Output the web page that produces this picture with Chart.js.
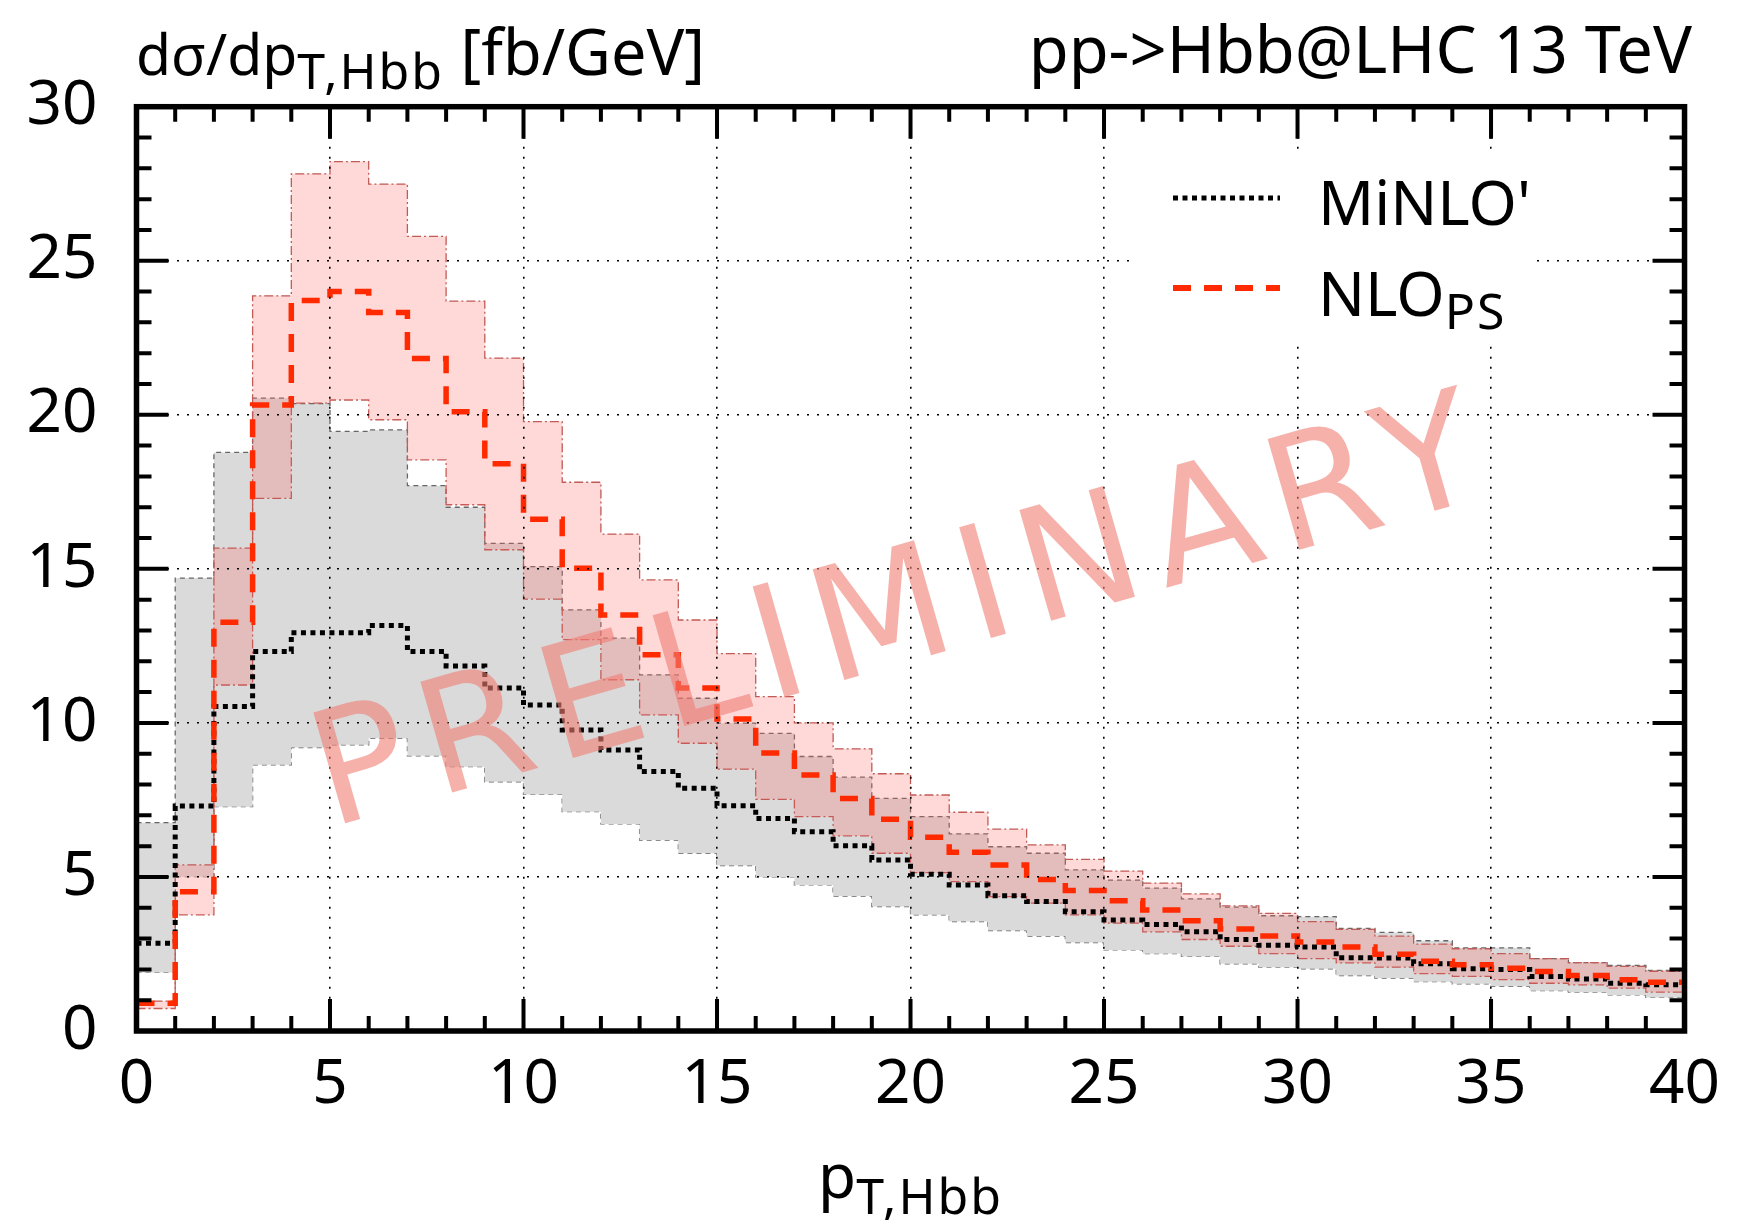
<!DOCTYPE html>
<html>
<head>
<meta charset="utf-8">
<title>pp->Hbb pT spectrum</title>
<script src="https://cdn.jsdelivr.net/npm/chart.js@4/dist/chart.umd.min.js"></script>
<style>
  html, body { margin: 0; padding: 0; background: #fff; }
  canvas { display: block; }
</style>
</head>
<body>
<canvas id="ptChart" width="1737" height="1228"></canvas>
<script>
// 1 GeV bins from 0 to 40
const binEdges = [0, 1, 2, 3, 4, 5, 6, 7, 8, 9, 10, 11, 12, 13, 14, 15, 16, 17, 18, 19, 20,
    21, 22, 23, 24, 25, 26, 27, 28, 29, 30, 31, 32, 33, 34, 35, 36, 37, 38, 39, 40];

const xTicks = [0, 5, 10, 15, 20, 25, 30, 35, 40];
const yTicks = [0, 5, 10, 15, 20, 25, 30];

// MiNLO' (black dotted + grey band)
const minloCentral = [2.85, 7.3, 10.53, 12.32, 12.93, 12.93, 13.16, 12.32, 11.85, 11.13,
    10.58, 9.77, 9.12, 8.42, 7.88, 7.31, 6.9, 6.47, 6.01, 5.55,
    5.09, 4.74, 4.39, 4.2, 3.87, 3.6, 3.46, 3.22, 2.97, 2.78,
    2.73, 2.38, 2.37, 2.18, 2.02, 2.0, 1.77, 1.69, 1.55, 1.5];
const minloUpper = [6.76, 14.7, 18.78, 20.54, 20.36, 19.46, 19.51, 17.7, 17.0, 15.83,
    15.07, 13.67, 12.75, 11.56, 10.8, 9.99, 9.66, 8.91, 8.24, 7.55,
    6.96, 6.4, 5.98, 5.77, 5.23, 4.9, 4.64, 4.29, 4.02, 3.74,
    3.71, 3.33, 3.2, 2.93, 2.7, 2.7, 2.35, 2.22, 2.13, 1.97];
const minloLower = [1.9, 5.01, 7.28, 8.64, 9.2, 9.29, 9.5, 8.93, 8.58, 8.09,
    7.68, 7.12, 6.72, 6.2, 5.77, 5.37, 5.0, 4.74, 4.38, 4.04,
    3.77, 3.55, 3.26, 3.08, 2.87, 2.63, 2.51, 2.42, 2.18, 2.07,
    2.02, 1.8, 1.72, 1.6, 1.53, 1.45, 1.31, 1.26, 1.17, 1.09];

// NLO_PS (red dashed + pink band)
const nlopsCentral = [0.9, 4.52, 13.27, 20.32, 23.71, 24.0, 23.32, 21.83, 20.1, 18.41,
    16.61, 15.02, 13.5, 12.21, 11.13, 10.13, 9.02, 8.31, 7.55, 6.87,
    6.29, 5.8, 5.39, 4.92, 4.56, 4.23, 3.93, 3.58, 3.31, 3.08,
    2.89, 2.73, 2.49, 2.26, 2.15, 2.04, 1.93, 1.8, 1.66, 1.58];
const nlopsUpper = [0.97, 5.39, 15.67, 23.86, 27.82, 28.22, 27.49, 25.79, 23.69, 21.84,
    19.78, 17.81, 16.13, 14.64, 13.34, 12.25, 10.85, 10.0, 9.16, 8.35,
    7.66, 7.1, 6.55, 6.04, 5.57, 5.19, 4.8, 4.45, 4.06, 3.82,
    3.55, 3.3, 3.08, 2.82, 2.67, 2.51, 2.35, 2.22, 2.1, 1.94];
const nlopsLower = [0.73, 3.77, 11.23, 17.29, 20.38, 20.48, 19.84, 18.54, 17.08, 15.62,
    14.02, 12.7, 11.4, 10.26, 9.34, 8.5, 7.52, 6.96, 6.33, 5.77,
    5.14, 4.85, 4.36, 4.15, 3.77, 3.5, 3.22, 2.97, 2.75, 2.51,
    2.35, 2.21, 2.07, 1.86, 1.77, 1.67, 1.55, 1.5, 1.39, 1.26];

const FONT = '"Noto Sans", "DejaVu Sans", sans-serif';

// histogram -> step points (last value repeated at the upper edge)
function steps(vals) {
    const pts = vals.map((v, i) => ({x: binEdges[i], y: v}));
    pts.push({x: binEdges[vals.length], y: vals[vals.length - 1]});
    return pts;
}

function lineDs(label, vals, opts) {
    return Object.assign({
        label: label,
        data: steps(vals),
        stepped: 'before',
        pointRadius: 0,
        fill: false,
        borderCapStyle: 'butt',
    }, opts);
}

// text with a subscript part, returns end x
function textWithSub(ctx, x, y, main, sub, mainSize, subSize, subDrop) {
    ctx.font = mainSize + 'px ' + FONT;
    ctx.fillText(main, x, y);
    x += ctx.measureText(main).width;
    ctx.font = subSize + 'px ' + FONT;
    ctx.letterSpacing = '2px';
    ctx.fillText(sub, x, y + subDrop);
    const w = ctx.measureText(sub).width;
    ctx.letterSpacing = '0px';
    return x + w;
}

const decor = {
    id: 'decor',
    afterDraw(chart) {
        const {ctx, chartArea: a, scales: {x, y}} = chart;
        ctx.save();

        // PRELIMINARY watermark
        ctx.save();
        ctx.translate(898, 622);
        ctx.rotate(-16 * Math.PI / 180);
        ctx.font = '158px "DejaVu Sans", sans-serif';
        ctx.letterSpacing = '16px';
        ctx.textAlign = 'center';
        ctx.textBaseline = 'middle';
        ctx.fillStyle = 'rgba(240, 125, 115, 0.6)';
        ctx.fillText('PRELIMINARY', 8, 0);
        ctx.restore();

        // legend
        ctx.fillStyle = '#fff';
        ctx.fillRect(1130, 153, 404, 188);
        ctx.lineCap = 'butt';
        ctx.strokeStyle = '#000';
        ctx.lineWidth = 5;
        ctx.setLineDash([5, 4.5]);
        ctx.beginPath();
        ctx.moveTo(1173, 198);
        ctx.lineTo(1280, 198);
        ctx.stroke();
        ctx.strokeStyle = '#ff2a00';
        ctx.lineWidth = 6;
        ctx.setLineDash([18, 13]);
        ctx.beginPath();
        ctx.moveTo(1173, 288);
        ctx.lineTo(1280, 288);
        ctx.stroke();
        ctx.setLineDash([]);
        ctx.fillStyle = '#000';
        ctx.textAlign = 'left';
        ctx.textBaseline = 'alphabetic';
        ctx.font = '62px ' + FONT;
        ctx.fillText("MiNLO'", 1318, 225);
        textWithSub(ctx, 1318, 316, 'NLO', 'PS', 62, 50, 13);

        // titles
        let tx = textWithSub(ctx, 136, 75, 'd\u03c3/dp', 'T,Hbb', 57, 50, 14);
        ctx.font = '63px ' + FONT;
        ctx.fillText(' [fb/GeV]', tx, 75);
        ctx.textAlign = 'right';
        ctx.font = '65px ' + FONT;
        ctx.fillText('pp->Hbb@LHC 13 TeV', 1692, 73);
        ctx.textAlign = 'left';
        ctx.font = '62px ' + FONT;
        const wp = ctx.measureText('p').width;
        ctx.font = '50px ' + FONT;
        const ws = ctx.measureText('T,Hbb').width;
        textWithSub(ctx, (a.left + a.right) / 2 - 5 - (wp + ws) / 2, 1198, 'p', 'T,Hbb', 62, 50, 16);

        // inward ticks on all four sides
        ctx.strokeStyle = '#000';
        ctx.lineWidth = 4;
        ctx.beginPath();
        for (let v = binEdges[0]; v <= binEdges[binEdges.length - 1]; v++) {
            const px = x.getPixelForValue(v);
            const len = v % 5 === 0 ? 32 : 15;
            ctx.moveTo(px, a.bottom); ctx.lineTo(px, a.bottom - len);
            ctx.moveTo(px, a.top); ctx.lineTo(px, a.top + len);
        }
        for (let v = yTicks[0]; v <= yTicks[yTicks.length - 1]; v++) {
            const py = y.getPixelForValue(v);
            const len = v % 5 === 0 ? 32 : 15;
            ctx.moveTo(a.left, py); ctx.lineTo(a.left + len, py);
            ctx.moveTo(a.right, py); ctx.lineTo(a.right - len, py);
        }
        ctx.stroke();

        ctx.lineWidth = 5.5;
        ctx.strokeRect(a.left, a.top, a.right - a.left, a.bottom - a.top);
        ctx.restore();
    }
};

const gridCommon = {
    z: 1,
    color: '#000',
    lineWidth: 1.6,
    drawTicks: false,
    borderDash: [2, 8],
};

new Chart(document.getElementById('ptChart'), {
    type: 'line',
    data: {
        datasets: [
            lineDs('NLOps', nlopsCentral, {borderColor: '#ff2a00', borderWidth: 5.5, borderDash: [18, 13], order: 1}),
            lineDs("MiNLO'", minloCentral, {borderColor: '#000', borderWidth: 5, borderDash: [5, 4.5], order: 2}),
            lineDs('NLOps up', nlopsUpper, {borderColor: '#c25a55', borderWidth: 1.3, borderDash: [9, 3, 2, 3],
                fill: '+1', backgroundColor: 'rgba(255, 100, 100, 0.25)', order: 5}),
            lineDs('NLOps down', nlopsLower, {borderColor: '#c25a55', borderWidth: 1.3, borderDash: [9, 3, 2, 3], order: 5}),
            lineDs("MiNLO' up", minloUpper, {borderColor: '#666', borderWidth: 1.3, borderDash: [5, 4],
                fill: '+1', backgroundColor: '#dadada', order: 6}),
            lineDs("MiNLO' down", minloLower, {borderColor: '#666', borderWidth: 1.3, borderDash: [5, 4], order: 6}),
        ]
    },
    options: {
        responsive: false,
        animation: false,
        devicePixelRatio: 1,
        layout: {padding: {top: 106.7, right: 44, left: 0, bottom: 0}},
        plugins: {
            legend: {display: false},
            tooltip: {enabled: false},
        },
        scales: {
            x: {
                type: 'linear',
                min: binEdges[0],
                max: binEdges[binEdges.length - 1],
                afterBuildTicks: (s) => { s.ticks = xTicks.map(v => ({value: v})); },
                afterFit: (s) => { s.height = 197; },
                ticks: {color: '#000', padding: 17, maxRotation: 0, font: {family: FONT, size: 62}},
                grid: gridCommon,
                border: {display: false, dash: [2, 8]},
            },
            y: {
                type: 'linear',
                min: yTicks[0],
                max: yTicks[yTicks.length - 1],
                afterBuildTicks: (s) => { s.ticks = yTicks.map(v => ({value: v})); },
                afterFit: (s) => { s.width = 136.5; },
                ticks: {color: '#000', padding: 39, font: {family: FONT, size: 62}},
                grid: gridCommon,
                border: {display: false, dash: [2, 8]},
            }
        }
    },
    plugins: [decor]
});
</script>
</body>
</html>
